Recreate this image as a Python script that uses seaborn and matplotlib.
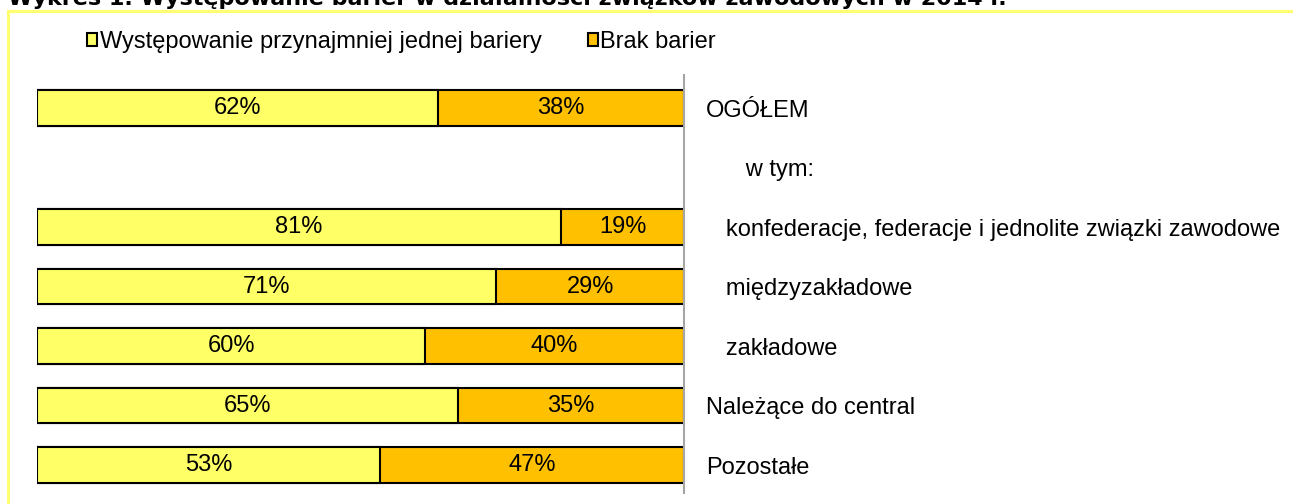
import numpy as np
import pandas as pd
import matplotlib
matplotlib.use('Agg')
import matplotlib.pyplot as plt
import seaborn as sns
from matplotlib.patches import Patch, Rectangle

# dane (w %)
kategorie = ['OGÓŁEM', 'w tym:', 'konfederacje, federacje i jednolite związki zawodowe',
             'międzyzakładowe', 'zakładowe', 'Należące do central', 'Pozostałe']
etykiety = ['OGÓŁEM', '      w tym:', '   konfederacje, federacje i jednolite związki zawodowe',
            '   międzyzakładowe', '   zakładowe', 'Należące do central', 'Pozostałe']
bariera = [62, None, 81, 71, 60, 65, 53]
brak_barier = [38, None, 19, 29, 40, 35, 47]

seria_1 = 'Występowanie przynajmniej jednej bariery'
seria_2 = 'Brak barier'
tytul = 'Wykres 1. Występowanie barier w działalności związków zawodowych w 2014 r.'

zolty = '#FFFF66'
pomaranczowy = '#FFC000'
rozmiar = 17

sns.set_style('white')
plt.rcParams['font.family'] = ['Liberation Sans', 'DejaVu Sans']
plt.rcParams['text.color'] = 'black'
plt.rcParams['ytick.color'] = 'black'

df = pd.DataFrame({'kategoria': kategorie,
                   'tak': pd.Series(bariera, dtype=float),
                   'nie': pd.Series(brak_barier, dtype=float)})
df['suma'] = df['tak'] + df['nie']

W, H = 1293, 504
fig = plt.figure(figsize=(W / 100, H / 100), dpi=100)
ax = fig.add_axes([37 / W, 1 - 493 / H, (684 - 37) / W, (493 - 75) / H])

# najpierw cały pasek (pomarańczowy), potem część żółta na wierzchu
sns.barplot(data=df, x='suma', y='kategoria', order=kategorie, orient='h',
            color=pomaranczowy, saturation=1, edgecolor='black', linewidth=1.5,
            width=0.6, errorbar=None, ax=ax)
sns.barplot(data=df, x='tak', y='kategoria', order=kategorie, orient='h',
            color=zolty, saturation=1, edgecolor='black', linewidth=1.5,
            width=0.6, errorbar=None, ax=ax)

for i, row in df.iterrows():
    if np.isnan(row['tak']):
        continue
    ax.text(row['tak'] / 2, i, f"{row['tak']:.0f}%", ha='center', va='center',
            fontsize=rozmiar, color='black')
    ax.text(row['tak'] + row['nie'] / 2, i, f"{row['nie']:.0f}%", ha='center', va='center',
            fontsize=rozmiar, color='black')

ax.set_xlim(0, 100)
ax.set_ylim(6.47, -0.555)
ax.set_xticks([])
ax.set_xlabel('')
ax.set_ylabel('')
for s in ['top', 'left', 'bottom']:
    ax.spines[s].set_visible(False)
ax.spines['right'].set_color('#A6A6A6')
ax.spines['right'].set_linewidth(1.5)
ax.yaxis.tick_right()
ax.set_yticks(range(len(kategorie)))
ax.set_yticklabels(etykiety)
ax.tick_params(axis='y', length=0, pad=16, labelsize=rozmiar, labelcolor='black')

uchwyty = [Patch(facecolor=zolty, edgecolor='black', linewidth=1.5, label=seria_1),
           Patch(facecolor=pomaranczowy, edgecolor='black', linewidth=1.5, label=seria_2)]
fig.legend(handles=uchwyty, loc='center left', bbox_to_anchor=(87 / W, 1 - 42 / H),
           ncol=2, frameon=False, fontsize=rozmiar, handlelength=0.42, handleheight=0.42,
           handletextpad=0.12, columnspacing=1.95, borderpad=0, borderaxespad=0,
           labelcolor='black')

# żółta ramka i ucięty tytuł u góry (w oryginale widać tylko dolną część)
fig.patches.append(Rectangle((7.5 / W, -0.1), 1.2, (1 - 10.5 / H) + 0.1,
                             transform=fig.transFigure, fill=False,
                             edgecolor='#FFFF70', linewidth=2.2))
fig.text(8 / W, 1 - 5 / H, tytul, fontsize=16, fontweight='bold',
         family=['DejaVu Sans'], ha='left', va='baseline', color='black')

fig.savefig('out.png', dpi=100)
